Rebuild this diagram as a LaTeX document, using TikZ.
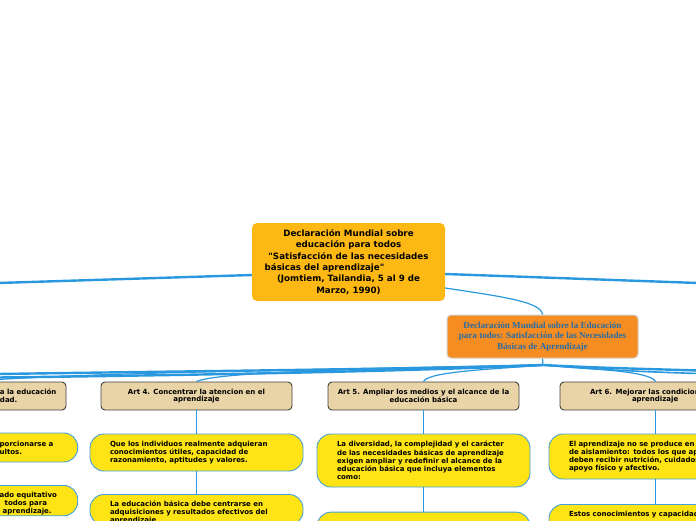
\documentclass[tikz,border=0pt]{standalone}
\usepackage{fontspec}
\setmainfont{DejaVu Sans}
\newfontfamily\orfont{Liberation Serif}
\newcommand{\strq}{\XeTeXglyph\XeTeXglyphindex "quotedbl"\relax}
\definecolor{linkblue}{RGB}{42,152,222}
\definecolor{mainyel}{RGB}{253,184,19}
\definecolor{orangebg}{RGB}{245,141,34}
\definecolor{orblue}{RGB}{40,108,165}
\definecolor{tanbg}{RGB}{232,212,166}
\definecolor{yelbg}{RGB}{254,228,20}
\definecolor{ybord}{RGB}{66,160,222}
\begin{document}
\begin{tikzpicture}[x=1pt,y=-1pt,
  link/.style={draw=linkblue, line width=2.4pt},
  midlink/.style={draw=linkblue, line width=1.6pt},
  thinlink/.style={draw=linkblue, line width=1.2pt},
  mainbox/.style={fill=mainyel, rounded corners=5pt, minimum width=193pt, minimum height=78pt, align=center, font=\fontsize{8.7}{11.4}\selectfont\bfseries, inner sep=0pt},
  orbox/.style={fill=orangebg, draw=black!18, line width=1pt, rounded corners=4pt, minimum width=191pt, minimum height=43pt, align=center, font=\orfont\fontsize{9.1}{10.6}\selectfont\bfseries, text=orblue, inner sep=0pt},
  artbox/.style={fill=tanbg, draw=black!75, line width=0.9pt, rounded corners=4pt, minimum width=191pt, minimum height=28pt, align=center, font=\fontsize{7.0}{7.8}\selectfont\bfseries, inner sep=0pt},
  ybox/.style={fill=yelbg, draw=ybord, line width=0.9pt, rounded corners=14pt, minimum width=213pt, align=left, text width=173pt, inner xsep=20pt, inner ysep=6.5pt, font=\fontsize{7.0}{8.2}\selectfont\bfseries},
]
\useasboundingbox (0,0) rectangle (696,520);
\clip (0,0) rectangle (696,520);

% central nodes
\node[mainbox] (main) at (348.5,262) {Declaración Mundial sobre\\educación para todos\\\strq Satisfacción de las necesidades\\básicas del aprendizaje\strq\rule{48pt}{0pt}\\(Jomtiem, Tailandia, 5 al 9 de\\Marzo, 1990)};
\node[orbox] (decl) at (542.5,336.5) {Declaración Mundial sobre la Educación\\para todos: Satisfacción de las Necesidades\\Básicas de Aprendizaje};

% article boxes
\node[artbox, align=left, text width=181pt, inner xsep=5pt] (a3) at (-29.5,396) {\hspace*{120pt}a la educación\\\hspace*{120pt}dad.};
\node[artbox] (a4) at (196.5,396) {Art 4. Concentrar la atencion en el\\aprendizaje};
\node[artbox] (a5) at (423.5,396) {Art 5. Ampliar los medios y el alcance de la\\educación básica};
\node[artbox, align=left, text width=181pt, inner xsep=5pt] (a6) at (655.5,396) {\hspace*{25pt}Art 6. Mejorar las condicion\\\hspace*{67pt}aprendizaje};

% yellow boxes
\node[ybox, text width=193pt, inner xsep=10pt, minimum height=29pt] (a3y1) at (-28.8,447.5) {\hspace*{125pt}porcionarse a\\\hspace*{125pt}ultos.};
\node[ybox, text width=193pt, inner xsep=10pt, anchor=north, text depth=12pt] (a3y2) at (-28.8,485) {\hspace*{125pt}ado equitativo\\\hspace*{130pt}todos para\\\hspace*{128pt}aprendizaje.};

\node[ybox, minimum height=37pt] (a4y1) at (196.5,452.5) {Que los individuos realmente adquieran\\conocimientos útiles, capacidad de\\razonamiento, aptitudes y valores.};
\node[ybox, anchor=north, text depth=12pt] (a4y2) at (196.5,494) {La educación básica debe centrarse en\\adquisiciones y resultados efectivos del\\aprendizaje};

\node[ybox, minimum height=53pt] (a5y1) at (423.5,460.5) {La diversidad, la complejidad y el carácter\\de las necesidades básicas de aprendizaje\\exigen ampliar y redefinir el alcance de la\\educación básica que incluya elementos\\como:};
\node[ybox, anchor=north, minimum height=40pt] (a5y2) at (423.5,511.7) {};

\node[ybox, minimum height=45pt] (a6y1) at (655.5,456.5) {El aprendizaje no se produce en\\de aislamiento: todos los que ap\\deben recibir nutrición, cuidados\\apoyo físico y afectivo.};
\node[ybox, anchor=north, text depth=24pt] (a6y2) at (655.5,504) {Estos conocimientos y capacidad};

% free ends of branches leaving the picture
\coordinate (offL) at (-2,283);
\coordinate (offR) at (698,283);
\coordinate (hub) at (543,365);
\coordinate (offL1) at (-2,374);
\coordinate (offL2) at (-2,377.5);
\coordinate (offR1) at (698,370.5);
\coordinate (offR2) at (698,373.5);

% connectors from the main node
\draw[link] ([yshift=-13pt]main.west) -- (offL);
\draw[link] ([yshift=-12pt]main.east) -- (offR);
\draw[thinlink] ([yshift=-26pt]main.east) .. controls (505,297) and (541,302) .. (decl.north);

% connectors from the declaration node
\draw[thinlink] (decl.south) -- (hub);
\draw[link] (hub) .. controls (420,369) and (200,371) .. (offL1);
\draw[link] (hub) .. controls (420,371) and (200,375) .. (offL2);
\draw[link] (hub) .. controls (600,368) and (650,369) .. (offR1);
\draw[midlink] (hub) .. controls (600,370) and (650,372) .. (offR2);
\draw[thinlink] (hub) .. controls (300,370) and (70,373) .. (a3.north);
\draw[thinlink] (hub) .. controls (380,369) and (220,371) .. (a4.north);
\draw[thinlink] (hub) .. controls (500,369) and (428,371) .. (a5.north);
\draw[thinlink] (hub) .. controls (590,369) and (651,371) .. (a6.north);

% vertical connectors
\draw[midlink] (a3.south) -- (a3y1.north);
\draw[midlink] (a3y1.south) -- (a3y2.north);
\draw[midlink] (a4.south) -- (a4y1.north);
\draw[midlink] (a4y1.south) -- (a4y2.north);
\draw[midlink] (a5.south) -- (a5y1.north);
\draw[midlink] (a5y1.south) -- (a5y2.north);
\draw[midlink] (a6.south) -- (a6y1.north);
\draw[midlink] (a6y1.south) -- (a6y2.north);
\end{tikzpicture}
\end{document}
